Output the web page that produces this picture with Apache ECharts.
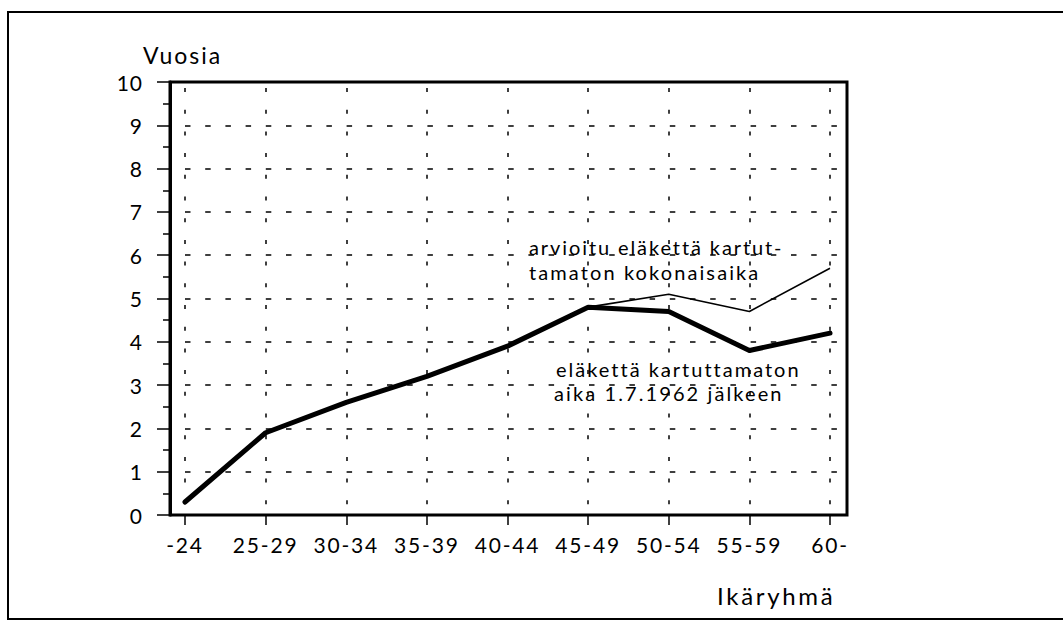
<!DOCTYPE html>
<html>
<head>
<meta charset="utf-8">
<script src="https://cdn.jsdelivr.net/npm/echarts@6/dist/echarts.min.js"></script>
<style>
html,body{margin:0;padding:0;background:#fff;overflow:hidden;}
#chart{width:1063px;height:620px;}
</style>
</head>
<body>
<div id="chart"></div>
<script>
// Data
const categories = ['-24', '25-29', '30-34', '35-39', '40-44', '45-49', '50-54', '55-59', '60-'];
const afterValues = [0.3, 1.9, 2.6, 3.2, 3.9, 4.8, 4.7, 3.8, 4.2];   // eläkettä kartuttamaton aika 1.7.1962 jälkeen
const totalValues = [0.3, 1.9, 2.6, 3.2, 3.9, 4.8, 5.1, 4.7, 5.7];   // arvioitu eläkettä kartuttamaton kokonaisaika
const yMin = 0, yMax = 10, yInterval = 1;
const yAxisTitle = 'Vuosia';
const xAxisTitle = 'Ikäryhmä';
const noteTotal = ['arvioitu eläkettä kartut-', 'tamaton kokonaisaika'];
const noteAfter = ['eläkettä kartuttamaton', 'aika 1.7.1962 jälkeen'];

const FONT = 'Lato, "Open Sans", sans-serif';
const chart = echarts.init(document.getElementById('chart'), null, {renderer: 'svg'});

// letter spacing to imitate the wide-set lettering of the original
const spacingFor = {};
spacingFor[yAxisTitle] = '2px';
spacingFor[xAxisTitle] = '2.7px';
spacingFor[noteTotal[0]] = '1.9px';
spacingFor[noteTotal[1]] = '2.1px';
spacingFor[noteAfter[0]] = '2px';
spacingFor[noteAfter[1]] = '2.1px';
categories.forEach(c => { spacingFor[c] = '1.8px'; });

function applySpacing() {
  document.querySelectorAll('#chart text').forEach(t => {
    const s = t.textContent;
    if (spacingFor[s]) t.style.letterSpacing = spacingFor[s];
    else if (/^\d+$/.test(s)) t.style.letterSpacing = '1px';
  });
}
chart.on('finished', applySpacing);

const option = {
  backgroundColor: '#ffffff',
  animation: false,
  textStyle: {fontFamily: FONT, color: '#000'},
  grid: [
    {left: 185, right: 233, top: 82, bottom: 105, show: false},
    {left: 170, right: 216, top: 82, bottom: 105, show: true, borderColor: '#000', borderWidth: 3, backgroundColor: 'transparent'}
  ],
  xAxis: [
    {
      gridIndex: 0, type: 'category', data: categories, boundaryGap: false,
      axisLine: {show: false},
      axisTick: {show: true, inside: false, length: 10, lineStyle: {color: '#000', width: 1.5}},
      axisLabel: {margin: 19, fontSize: 21, color: '#000', fontFamily: FONT},
      splitLine: {show: true, lineStyle: {color: '#000', width: 1.5, type: [4, 17.7], dashOffset: -6}}
    },
    {gridIndex: 1, type: 'value', min: 0, max: 1, show: false}
  ],
  yAxis: [
    {
      gridIndex: 0, type: 'value', min: yMin, max: yMax, interval: yInterval, show: false,
      splitLine: {show: false}
    },
    {
      gridIndex: 1, type: 'value', min: yMin, max: yMax, interval: yInterval,
      axisLine: {show: true, lineStyle: {color: '#000', width: 3}},
      axisTick: {show: true, inside: false, length: 13, lineStyle: {color: '#000', width: 1.5}},
      minorTick: {show: true, splitNumber: 2, length: 7, lineStyle: {color: '#000', width: 1.5}},
      axisLabel: {margin: 27, fontSize: 21, color: '#000', fontFamily: FONT},
      splitLine: {show: true, lineStyle: {color: '#000', width: 1.5, type: [5.5, 14.7], dashOffset: -15}}
    }
  ],
  series: [
    {
      name: noteTotal.join(' '), type: 'line', xAxisIndex: 0, yAxisIndex: 0,
      data: totalValues, symbol: 'none', z: 3,
      lineStyle: {color: '#000', width: 1.6}
    },
    {
      name: noteAfter.join(' '), type: 'line', xAxisIndex: 0, yAxisIndex: 0,
      data: afterValues, symbol: 'none', z: 4,
      lineStyle: {color: '#000', width: 5, cap: 'round', join: 'round'}
    }
  ],
  graphic: [
    {type: 'polyline', shape: {points: [[1200, 12], [8, 12], [8, 619], [1200, 619]]}, style: {fill: 'none', stroke: '#000', lineWidth: 2}, silent: true},
    {type: 'text', x: 143, y: 55, style: {text: yAxisTitle, font: '23px ' + FONT, fill: '#000', textAlign: 'left', textVerticalAlign: 'middle'}},
    {type: 'text', x: 717, y: 595, style: {text: xAxisTitle, font: '24px ' + FONT, fill: '#000', textAlign: 'left', textVerticalAlign: 'middle'}},
    {type: 'text', x: 529, y: 247, style: {text: noteTotal[0], font: '20px ' + FONT, fill: '#000', textAlign: 'left', textVerticalAlign: 'middle'}},
    {type: 'text', x: 529, y: 272, style: {text: noteTotal[1], font: '20px ' + FONT, fill: '#000', textAlign: 'left', textVerticalAlign: 'middle'}},
    {type: 'text', x: 556, y: 369, style: {text: noteAfter[0], font: '20px ' + FONT, fill: '#000', textAlign: 'left', textVerticalAlign: 'middle'}},
    {type: 'text', x: 554, y: 393, style: {text: noteAfter[1], font: '20px ' + FONT, fill: '#000', textAlign: 'left', textVerticalAlign: 'middle'}}
  ]
};
chart.setOption(option);
applySpacing();
</script>
</body>
</html>
